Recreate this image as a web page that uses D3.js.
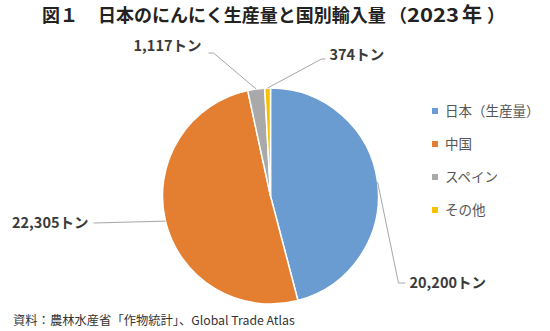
<!DOCTYPE html>
<html lang="ja">
<head>
<meta charset="UTF-8">
<title>日本のにんにく生産量と国別輸入量</title>
<script src="https://d3js.org/d3.v7.min.js"></script>
<style>
  body { margin: 0; background: #fff; }
  svg { font-family: "Noto Sans CJK JP", "Noto Sans", sans-serif; }
</style>
</head>
<body>
<script>
// data
const categories = ["日本（生産量）", "中国", "スペイン", "その他"];
const values = [20200, 22305, 1117, 374];
const valueLabels = ["20,200トン", "22,305トン", "1,117トン", "374トン"];
const colors = ["#6A9BD1", "#E47F31", "#A9A9A9", "#F5C100"];

const W = 550, H = 331;
const cx = 270.5, cy = 196, r = 108;

const svg = d3.select("body").append("svg")
  .attr("width", W).attr("height", H);

// title, split in pieces so the spacing follows the original
const title = svg.append("text")
  .attr("y", 22)
  .attr("font-size", 18).attr("font-weight", 700).attr("fill", "#222");
title.append("tspan").attr("x", 42).text("図１");
title.append("tspan").attr("x", 98).text("日本のにんにく生産量と国別輸入量");
title.append("tspan").attr("x", 389).text("（");
title.append("tspan").attr("x", 407).attr("font-size", 19)
  .attr("textLength", 52).attr("lengthAdjust", "spacingAndGlyphs").text("2023");
title.append("tspan").attr("x", 462).attr("font-size", 20).text("年");
title.append("tspan").attr("x", 487).text("）");

const data = categories.map((c, i) => ({ name: c, value: values[i], label: valueLabels[i], color: colors[i] }));

const pie = d3.pie().value(d => d.value).sort(null);
const arcs = pie(data);
const arc = d3.arc().innerRadius(0).outerRadius(r);

const g = svg.append("g").attr("transform", `translate(${cx},${cy})`);

g.selectAll("path")
  .data(arcs)
  .enter().append("path")
  .attr("d", arc)
  .attr("fill", d => d.data.color)
  .attr("stroke", "#fff")
  .attr("stroke-width", 1.5);

// leader lines: elbow point and end point (relative to center), label anchor
const leaders = [
  { elbow: [128, 87], end: [135, 87], tx: 139, ty: 92, anchor: "start" },
  { elbow: [-177, 27], end: [-177, 27], tx: -182, ty: 32, anchor: "end" },
  { elbow: [-57, -143], end: [-62, -143], tx: -69, ty: -145, anchor: "end" },
  { elbow: [51, -137], end: [55, -137], tx: 59, ty: -136, anchor: "start" }
];

arcs.forEach((a, i) => {
  const mid = (a.startAngle + a.endAngle) / 2;
  const p0 = [r * Math.sin(mid), -r * Math.cos(mid)];
  const L = leaders[i];
  g.append("polyline")
    .attr("points", [p0, L.elbow, L.end].map(p => p.join(",")).join(" "))
    .attr("fill", "none")
    .attr("stroke", "#A6A6A6")
    .attr("stroke-width", 1);
  g.append("text")
    .attr("x", L.tx).attr("y", L.ty)
    .attr("text-anchor", L.anchor)
    .attr("font-size", 14.5).attr("font-weight", 700).attr("fill", "#3A3A3A")
    .text(a.data.label);
});

// legend
const legend = svg.append("g").attr("transform", "translate(432,111)");
data.forEach((d, i) => {
  const row = legend.append("g").attr("transform", `translate(0,${i * 33})`);
  row.append("rect")
    .attr("x", 0).attr("y", -3).attr("width", 6).attr("height", 6)
    .attr("fill", d.color);
  row.append("text")
    .attr("x", 13).attr("y", 5)
    .attr("font-size", 13.5).attr("fill", "#555")
    .text(d.name);
});

// source note
svg.append("text")
  .attr("x", 13).attr("y", 325)
  .attr("font-size", 12.3).attr("fill", "#333")
  .text("資料：農林水産省「作物統計」、Global Trade Atlas");
</script>
</body>
</html>
